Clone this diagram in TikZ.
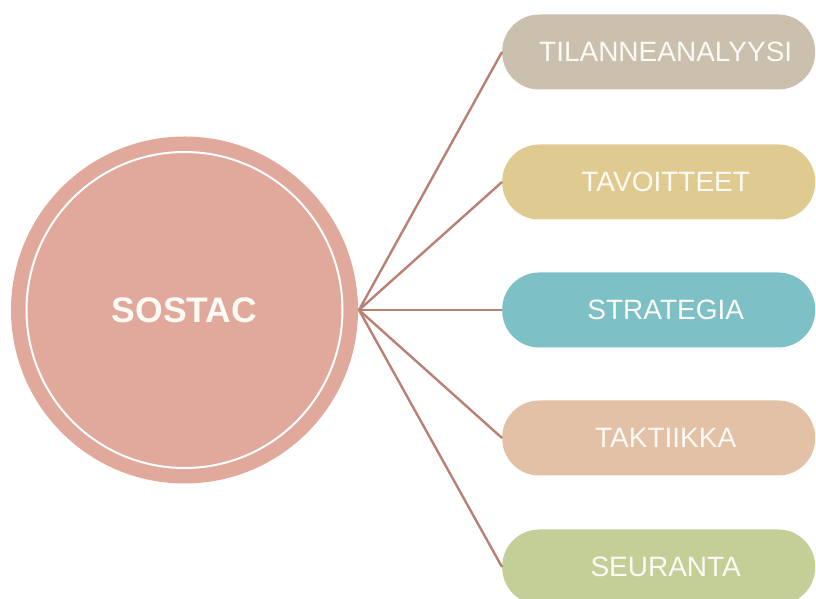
\documentclass[tikz,border=0pt]{standalone}
\usepackage{fontspec}
\setmainfont{Liberation Sans}
\definecolor{circ}{HTML}{E0A99B}
\definecolor{lnk}{HTML}{B98073}
\definecolor{txt}{HTML}{FCFAF4}
\definecolor{pa}{HTML}{CBBFAE}
\definecolor{pb}{HTML}{DFCA90}
\definecolor{pc}{HTML}{7DC0C6}
\definecolor{pd}{HTML}{E2C1A6}
\definecolor{pe}{HTML}{C4CE97}
\begin{document}
\begin{tikzpicture}[x=1pt,y=1pt,
  pill/.style={rounded corners=37pt, minimum width=313pt, minimum height=75pt, inner sep=0pt,
    text=txt, font=\fontsize{28}{32}\selectfont, anchor=west},
  link/.style={draw=lnk, line width=2.4pt}]
\useasboundingbox (0,0) rectangle (816,599);
\node[circle, fill=circ, minimum size=347pt, inner sep=0pt] (c) at (184.5,289) {};
\draw[white, line width=2pt] (c.center) circle (158);
\node[text=txt, font=\bfseries\fontsize{35.5}{40}\selectfont] (t) at (184.5,289) {SOSTAC};
\coordinate (hub) at (359,289);
\node[pill, fill=pa] (p1) at (502,547) {\hspace*{14pt}TILANNEANALYYSI};
\node[pill, fill=pb] (p2) at (502,417) {\hspace*{14pt}TAVOITTEET};
\node[pill, fill=pc] (p3) at (502,289) {\hspace*{14pt}STRATEGIA};
\node[pill, fill=pd] (p4) at (502,161) {\hspace*{14pt}TAKTIIKKA};
\node[pill, fill=pe] (p5) at (502,32) {\hspace*{14pt}SEURANTA};
\foreach \p in {p1,p2,p3,p4,p5} \draw[link] (hub) -- (\p.west);
\end{tikzpicture}
\end{document}
